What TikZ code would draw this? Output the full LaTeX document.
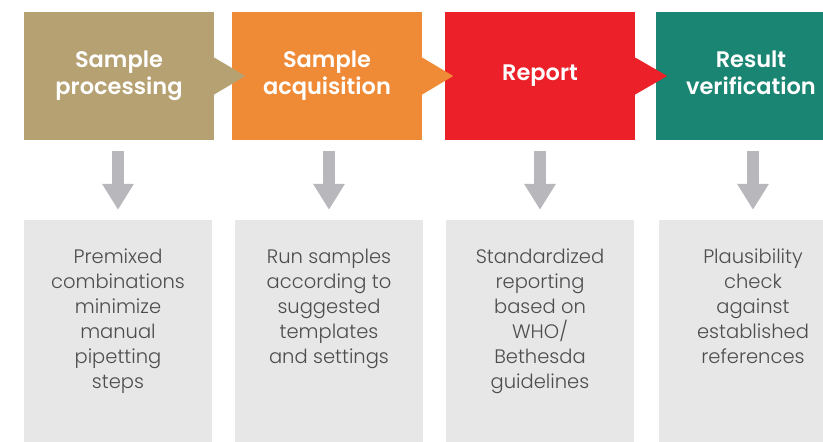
\documentclass[tikz,border=0pt]{standalone}
\usepackage{fontspec}
\setmainfont{Poppins}
\IfFontExistsTF{Poppins Light}{\newfontfamily\notefont{Poppins Light}}{\newfontfamily\notefont{Poppins}}
\IfFontExistsTF{Poppins SemiBold}{\newfontfamily\stagefont{Poppins SemiBold}}{\newfontfamily\stagefont{Poppins}[UprightFont=*,UprightFeatures={FakeBold=1.5}]}
\usetikzlibrary{arrows.meta}

\definecolor{proccol}{HTML}{B5A172}
\definecolor{acqcol}{HTML}{EF8A36}
\definecolor{repcol}{HTML}{EC2028}
\definecolor{vercol}{HTML}{1A8573}
\definecolor{arrowgray}{HTML}{B8B8BC}
\definecolor{notegray}{HTML}{E7E7E8}
\definecolor{notetextcol}{HTML}{4D4D4F}

\newcommand{\stagelines}[1]{\raisebox{3pt}{\begin{tabular}{@{}c@{}}#1\end{tabular}}}

\begin{document}
\begin{tikzpicture}[x=1pt, y=-1pt,
	stage/.style={rectangle, inner sep=0pt, minimum width=190pt, minimum height=128pt, text=white, align=center, font=\stagefont\fontsize{22.5}{27}\selectfont},
	note/.style={rectangle, inner sep=0pt, minimum width=188pt, minimum height=230pt, fill=notegray},
	notetext/.style={inner sep=0pt, anchor=north, align=center, text=notetextcol, font=\notefont\fontsize{19.5}{25}\selectfont},
	down/.style={draw=arrowgray, line width=12pt, -{Triangle[width=30pt,length=26pt]}, shorten <=11pt, shorten >=10pt}]
		\useasboundingbox (0,0) rectangle (823,442);
		\clip (0,0) rectangle (823,442);

		% top row
		\draw (119,76) node (proc) [stage, fill=proccol] {\stagelines{Sample\\processing}};
		\draw (327,76) node (acq) [stage, fill=acqcol] {\stagelines{Sample\\acquisition}};
		\draw (540,76) node (rep) [stage, fill=repcol] {\raisebox{2pt}{Report}};
		\draw (751,76) node (ver) [stage, fill=vercol] {\stagelines{Result\\verification}};

		\fill[proccol] ([yshift=18.5pt]proc.east) -- ([xshift=31pt]proc.east) coordinate (proctip) -- ([yshift=-18.5pt]proc.east) -- cycle;
		\fill[acqcol] ([yshift=18.5pt]acq.east) -- ([xshift=31pt]acq.east) coordinate (acqtip) -- ([yshift=-18.5pt]acq.east) -- cycle;
		\fill[repcol] ([yshift=18.5pt]rep.east) -- ([xshift=32pt]rep.east) coordinate (reptip) -- ([yshift=-18.5pt]rep.east) -- cycle;

		% bottom row
		\draw (118,335) node (procnote) [note] {};
		\draw (329,335) node (acqnote) [note] {};
		\draw (540,335) node (repnote) [note] {};
		\draw (753,335) node (vernote) [note] {};

		\draw ([yshift=-29pt]procnote.north) node (proctext) [notetext] {Premixed\\combinations\\minimize\\manual\\pipetting\\steps};
		\draw ([yshift=-29pt]acqnote.north) node (acqtext) [notetext] {Run samples\\according to\\suggested\\templates\\and settings};
		\draw ([yshift=-29pt]repnote.north) node (reptext) [notetext] {Standardized\\reporting\\based on\\WHO/\\Bethesda\\guidelines};
		\draw ([yshift=-29pt]vernote.north) node (vertext) [notetext] {Plausibility\\check\\against\\established\\references};

		\draw[down] (procnote.north |- proc.south) -- (procnote.north);
		\draw[down] (acqnote.north |- acq.south) -- (acqnote.north);
		\draw[down] (repnote.north |- rep.south) -- (repnote.north);
		\draw[down] (vernote.north |- ver.south) -- (vernote.north);
\end{tikzpicture}
\end{document}
